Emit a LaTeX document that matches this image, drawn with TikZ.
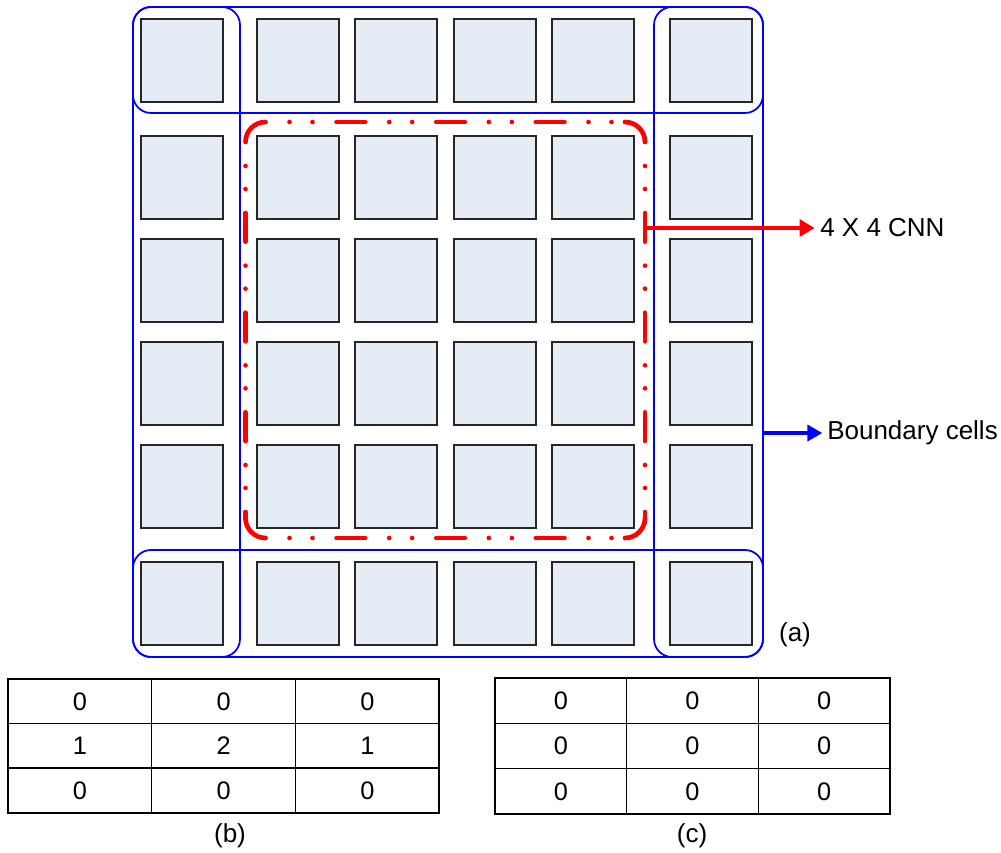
\documentclass[tikz,border=0pt]{standalone}
\usepackage{fontspec}
\setmainfont{Liberation Sans}
\usetikzlibrary{arrows.meta}
\definecolor{cellfill}{RGB}{230,236,246}
\begin{document}
\begin{tikzpicture}[x=0.75pt,y=-0.75pt,
  cell/.style={draw=black!85, fill=cellfill, line width=0.8pt, minimum width=61.5pt, minimum height=62.25pt, inner sep=0pt, outer sep=0pt},
  bgroup/.style={draw=blue, line width=1.3pt, rounded corners=13.5pt, inner sep=0pt, outer sep=0pt},
  cnnbox/.style={minimum width=300pt, minimum height=312pt, inner sep=0pt, outer sep=0pt},
  cnnline/.style={draw=red, line width=3.5pt, line cap=round},
  cnnside/.style={cnnline, dash pattern=on 21.5pt off 18pt on 0pt off 17.25pt on 0pt off 18pt, dash phase=21.5pt},
  lbl/.style={font=\fontsize{19.5pt}{23pt}\selectfont, inner sep=0pt},
  tcell/.style={draw=black, line width=0.8pt, inner sep=0pt, outer sep=0pt, font=\fontsize{19pt}{23pt}\selectfont},
  redarrow/.style={draw=red, line width=2.9pt, -{Triangle[length=11.25pt,width=12.5pt]}},
  bluearrow/.style={draw=blue, line width=2.9pt, -{Triangle[length=11.25pt,width=12pt]}},
  tframe/.style={draw=black, line width=1.7pt}
]
\useasboundingbox (0,0) rectangle (1001,853);

% blue boundary groups
\node[bgroup, minimum width=472.5pt, minimum height=79.5pt] (topgrp) at (448,60) {};
\node[bgroup, minimum width=472.5pt, minimum height=80.25pt] (botgrp) at (448,603.5) {};
\node[bgroup, minimum width=80.25pt, minimum height=487.5pt] (leftgrp) at (186.5,332) {};
\node[bgroup, minimum width=81.75pt, minimum height=487.5pt] (rightgrp) at (708.5,332) {};

% cells
\foreach \r/\y in {1/60.5,2/177.5,3/280.5,4/383.5,5/486.5,6/603.5}
  \foreach \c/\x in {1/182,2/298,3/396,4/495,5/593,6/711}
    \node[cell] (c-\r-\c) at (\x,\y) {};

% 4x4 CNN region (anchor node + dash-dot-dot rounded outline)
\node[cnnbox] (cnn) at (445.25,330) {};
\draw[cnnline] (245.5,142) arc[start angle=180,end angle=90,radius=15pt];
\draw[cnnline] (625,122) arc[start angle=90,end angle=0,radius=15pt];
\draw[cnnline] (645,518) arc[start angle=0,end angle=-90,radius=15pt];
\draw[cnnline] (265.5,538) arc[start angle=270,end angle=180,radius=15pt];
\draw[cnnside] (265.5,122) -- (625,122);
\draw[cnnside] (645,142) -- (645,518);
\draw[cnnside] (265.5,538) -- (625,538);
\draw[cnnside] (245.5,142) -- (245.5,518);

% labels
\node[lbl, anchor=west] (cnnlbl) at (820,228) {4 X 4 CNN};
\node[lbl, anchor=west] (bndlbl) at (827,433) {Boundary cells};
\node[lbl] (la) at (795,635) {(a)};

\draw[redarrow, shorten >=4pt] (cnn.east |- cnnlbl.west) -- (cnnlbl.west);
\draw[bluearrow, shorten >=3.5pt] (rightgrp.east |- bndlbl.west) -- (bndlbl.west);

% table (b)
\foreach \r/\y/\va/\vb/\vc in {1/701.5/0/0/0,2/745.5/1/2/1,3/790.5/0/0/0}{
  \node[tcell, minimum width=107.75pt, minimum height=33.25pt] (tb-\r-1) at (80,\y) {\va};
  \node[tcell, minimum width=107.75pt, minimum height=33.25pt] (tb-\r-2) at (223.7,\y) {\vb};
  \node[tcell, minimum width=107.75pt, minimum height=33.25pt] (tb-\r-3) at (367.3,\y) {\vc};
}
\draw[tframe] (tb-1-1.north west) rectangle (tb-3-3.south east);
\node[lbl] (lb) at (230,836) {(b)};

% table (c)
\foreach \r/\y in {1/700.5,2/746,3/791.5}{
  \node[tcell, minimum width=98.75pt, minimum height=34pt] (tc-\r-1) at (560.8,\y) {0};
  \node[tcell, minimum width=98.75pt, minimum height=34pt] (tc-\r-2) at (692.5,\y) {0};
  \node[tcell, minimum width=98.75pt, minimum height=34pt] (tc-\r-3) at (824.2,\y) {0};
}
\draw[tframe] (tc-1-1.north west) rectangle (tc-3-3.south east);
\node[lbl] (lc) at (692,836) {(c)};
\end{tikzpicture}
\end{document}
